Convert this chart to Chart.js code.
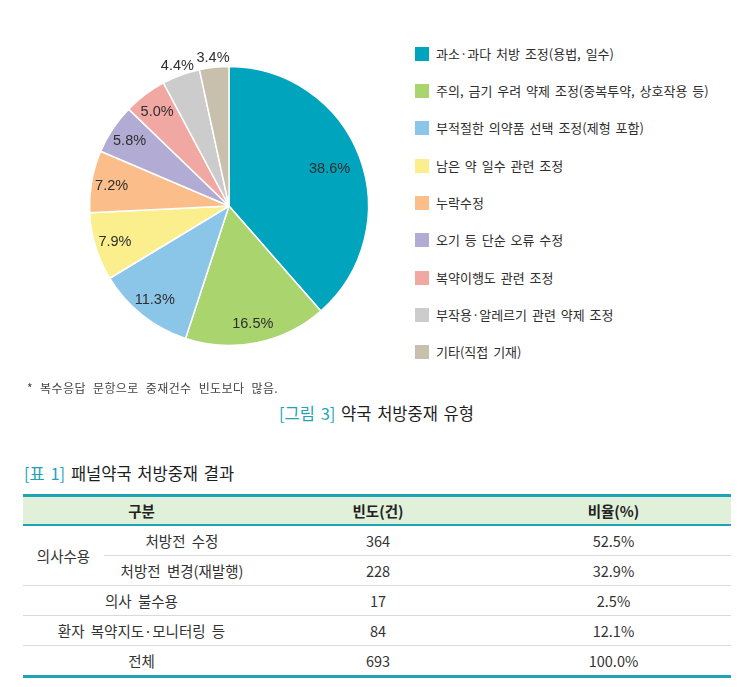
<!DOCTYPE html>
<html><head><meta charset="utf-8">
<script src="https://cdn.jsdelivr.net/npm/chart.js@4.4.1/dist/chart.umd.min.js"></script>
<style>
html,body{margin:0;padding:0;background:#fff;}
body{width:752px;height:687px;position:relative;overflow:hidden;font-family:"Noto Sans CJK KR","Noto Sans",sans-serif;color:#333;}
#pieBox{position:absolute;left:49px;top:26px;width:360px;height:360px;}
#legend{position:absolute;left:415px;top:0;width:337px;height:380px;}
.li{position:absolute;left:0;height:14px;display:flex;align-items:center;white-space:nowrap;font-size:13px;color:#2e2e2e;word-spacing:2px;}
.sw{width:14px;height:14px;margin-right:7px;flex:none;}
.li span{line-height:14px;}
#note{position:absolute;left:27px;top:379px;font-size:12px;color:#444;line-height:18px;white-space:nowrap;letter-spacing:0.4px;word-spacing:4px;}
#cap{position:absolute;left:279px;top:402px;font-size:16.5px;color:#1e1e1e;line-height:22px;white-space:nowrap;word-spacing:2px;}
#ttl{position:absolute;left:24px;top:462px;font-size:16.5px;color:#1e1e1e;line-height:22px;white-space:nowrap;word-spacing:2px;}
.teal{color:#1FA3B5;}
#tbl{position:absolute;left:23px;top:494px;width:708px;border-collapse:separate;border-spacing:0;table-layout:fixed;font-size:14.5px;color:#333;}
#tbl th,#tbl td{padding:0;text-align:center;vertical-align:middle;white-space:nowrap;line-height:18px;word-spacing:3px;}
#tbl th{background:#E1F0D9;height:27px;font-weight:700;border-top:3px solid #1FA3B5;border-bottom:2px solid #1FA3B5;color:#222;}
#tbl td{height:29px;border-bottom:1px solid #DADADA;}
#tbl tr.last td{border-bottom:3px solid #1FA3B5;}
</style></head>
<body>
<div id="pieBox"><canvas id="pie"></canvas></div>
<div id="legend"></div>
<div id="note">* 복수응답 문항으로 중재건수 빈도보다 많음.</div>
<div id="cap"><span class="teal">[그림 3]</span> 약국 처방중재 유형</div>
<div id="ttl"><span class="teal">[표 1]</span> 패널약국 처방중재 결과</div>
<table id="tbl"></table>
<script>
// ---- pie data ----
const shareLabels = ['과소·과다 처방 조정(용법, 일수)','주의, 금기 우려 약제 조정(중복투약, 상호작용 등)','부적절한 의약품 선택 조정(제형 포함)','남은 약 일수 관련 조정','누락수정','오기 등 단순 오류 수정','복약이행도 관련 조정','부작용·알레르기 관련 약제 조정','기타(직접 기재)'];
const shareValues = [38.6,16.5,11.3,7.9,7.2,5.8,5.0,4.4,3.4];
const shareColors = ['#00A5BD','#A9D46E','#8BC6E9','#FBEE8C','#FBBE8A','#B2ABD3','#F2A8A2','#CCCCCC','#C8BFAD'];
// ---- table data ----
const tableHeader = ['구분','빈도(건)','비율(%)'];
const tableGroup = '의사수용';
const tableRowLabels = ['처방전 수정','처방전 변경(재발행)','의사 불수용','환자 복약지도·모니터링 등','전체'];
const tableCounts = [364,228,17,84,693];
const tableRatios = ['52.5%','32.9%','2.5%','12.1%','100.0%'];

const labelPlugin = {
  id:'sliceLabels',
  afterDatasetsDraw(chart){
    const ctx=chart.ctx, meta=chart.getDatasetMeta(0);
    ctx.save();
    ctx.font='14.5px "Liberation Sans", Arial, sans-serif';
    ctx.fillStyle='#2e2e2e'; ctx.textAlign='center'; ctx.textBaseline='middle';
    meta.data.forEach((arc,i)=>{
      const p=arc.getProps(['x','y','startAngle','endAngle','outerRadius'],true);
      const mid=(p.startAngle+p.endAngle)/2;
      const v=chart.data.datasets[0].data[i];
      const rr = v<4.5 ? p.outerRadius*1.075 : (v>25 ? p.outerRadius*0.77 : p.outerRadius*0.855);
      ctx.fillText(v.toFixed(1)+'%', p.x+Math.cos(mid)*rr, p.y+Math.sin(mid)*rr+1);
    });
    ctx.restore();
  }
};

new Chart(document.getElementById('pie'),{
  type:'pie',
  data:{labels:shareLabels,datasets:[{data:shareValues,backgroundColor:shareColors,borderColor:'#fff',borderWidth:1.5}]},
  options:{responsive:true,maintainAspectRatio:false,animation:false,radius:139.5,
    layout:{padding:0},
    plugins:{legend:{display:false},tooltip:{enabled:false}}},
  plugins:[labelPlugin]
});

// legend
const lg=document.getElementById('legend');
shareLabels.forEach((t,i)=>{
  const d=document.createElement('div'); d.className='li';
  d.style.top=(46.7+i*37.3)+'px';
  d.innerHTML='<div class="sw" style="background:'+shareColors[i]+'"></div><span>'+t+'</span>';
  lg.appendChild(d);
});

// table
const tb=document.getElementById('tbl');
let h='<colgroup><col style="width:81px"><col style="width:156px"><col style="width:236px"><col style="width:235px"></colgroup>';
h+='<tr><th colspan="2">'+tableHeader[0]+'</th><th>'+tableHeader[1]+'</th><th>'+tableHeader[2]+'</th></tr>';
tableRowLabels.forEach((lab,i)=>{
  h+='<tr'+(i===tableRowLabels.length-1?' class="last"':'')+'>';
  if(i===0) h+='<td rowspan="2">'+tableGroup+'</td><td>'+lab+'</td>';
  else if(i===1) h+='<td>'+lab+'</td>';
  else h+='<td colspan="2">'+lab+'</td>';
  h+='<td>'+tableCounts[i]+'</td><td>'+tableRatios[i]+'</td></tr>';
});
tb.innerHTML=h;
</script>
</body></html>
